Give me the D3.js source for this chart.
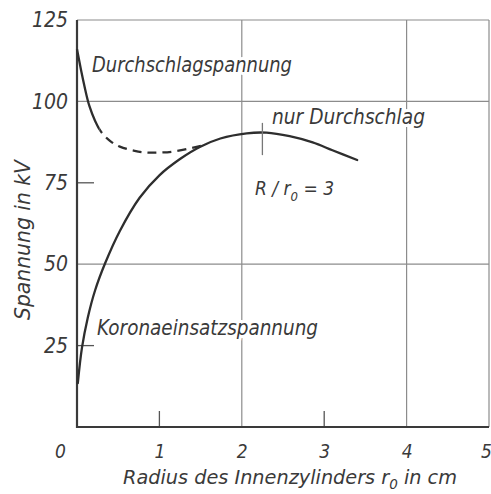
<!DOCTYPE html>
<html>
<head>
<meta charset="utf-8">
<script src="https://cdn.jsdelivr.net/npm/d3@7"></script>
<style>
  html, body { margin: 0; padding: 0; background: #fff; }
  svg { display: block; }
  text { font-family: "Liberation Sans Narrow", "DejaVu Sans Condensed", sans-serif; font-style: italic; fill: #3a3a3a; }
</style>
</head>
<body>
<svg id="chart" width="491" height="494"></svg>
<script>
// Corona onset voltage, rising from the axis into the common breakdown branch
const coronaRadius = [0.01, 0.06, 0.13, 0.22, 0.34, 0.52, 0.76, 1.00, 1.25, 1.49, 1.74, 2.06, 2.30, 2.58, 2.86, 3.10, 3.40];
const coronaKV     = [13.5, 24.3, 33.5, 42.0, 50.2, 60.2, 70.4, 77.3, 82.3, 86.0, 88.6, 90.2, 90.4, 89.3, 87.4, 85.0, 82.0];

// Breakdown voltage for thin inner conductors (solid up to solidUntil, dashed beyond)
const breakdownRadius = [0, 0.05, 0.10, 0.15, 0.22, 0.30, 0.40, 0.52, 0.70, 0.85, 1.00, 1.17, 1.37, 1.53];
const breakdownKV     = [116, 109.5, 103.6, 98.6, 94.0, 90.4, 87.9, 86.1, 84.8, 84.3, 84.3, 84.6, 85.6, 86.5];
const solidUntil = 0.27;

// Marker of the optimum radius ratio R/r0 = 3
const optimumRadius = 2.25;
const optimumKV = [93.4, 83.5];

// Axes
const xTicks = [0, 1, 2, 3, 4, 5];
const yTicks = [25, 50, 75, 100, 125];
const xGrid = [2, 4, 5];
const yGrid = [50, 100, 125];
const xMinor = [1, 3];
const yMinor = [25, 75];

const svg = d3.select("#chart");
const x = d3.scaleLinear().domain([0, 5]).range([77, 489]);
const y = d3.scaleLinear().domain([0, 125]).range([427, 20]);

const grid = svg.append("g").attr("stroke", "#8c8c8c").attr("stroke-width", 1.2);
grid.selectAll("line.h").data(yGrid).join("line").attr("class", "h")
  .attr("x1", x(0)).attr("x2", x(5)).attr("y1", d => y(d)).attr("y2", d => y(d));
grid.selectAll("line.v").data(xGrid).join("line").attr("class", "v")
  .attr("y1", y(0)).attr("y2", y(125)).attr("x1", d => x(d)).attr("x2", d => x(d));

// short inner ticks
const ticks = svg.append("g").attr("stroke", "#555").attr("stroke-width", 1.3);
ticks.selectAll("line.yt").data(yMinor).join("line").attr("class", "yt")
  .attr("x1", x(0)).attr("x2", x(0) + 17).attr("y1", d => y(d)).attr("y2", d => y(d));
ticks.selectAll("line.xt").data(xMinor).join("line").attr("class", "xt")
  .attr("y1", y(0)).attr("y2", y(0) - 16).attr("x1", d => x(d)).attr("x2", d => x(d));

// main axis lines
svg.append("line").attr("x1", x(0)).attr("x2", x(0)).attr("y1", y(0) + 1).attr("y2", y(125))
  .attr("stroke", "#3a3a3a").attr("stroke-width", 2.2);
svg.append("line").attr("x1", x(0) - 1).attr("x2", x(5)).attr("y1", y(0)).attr("y2", y(0))
  .attr("stroke", "#3a3a3a").attr("stroke-width", 2.2);

// tick labels via d3 axes
const xAxis = svg.append("g").attr("transform", `translate(0,${y(0)})`)
  .call(d3.axisBottom(x).tickValues(xTicks).tickSize(0).tickPadding(17.5).tickFormat(d3.format("d")));
const yAxis = svg.append("g").attr("transform", `translate(${x(0)},0)`)
  .call(d3.axisLeft(y).tickValues(yTicks).tickSize(0).tickPadding(9).tickFormat(d3.format("d")));
[xAxis, yAxis].forEach(g => {
  g.select(".domain").remove();
  g.selectAll("text").attr("font-size", 21).attr("fill", "#3a3a3a")
    .style("font-family", '"Liberation Sans Narrow", "DejaVu Sans Condensed", sans-serif')
    .style("font-style", "italic");
});
xAxis.selectAll("text").attr("font-size", 19);
xAxis.selectAll(".tick").filter(d => d === 0).select("text").attr("dx", -17);
xAxis.selectAll(".tick").filter(d => d === 5).select("text").attr("dx", -3);

// curves
const zip = (a, b) => a.map((v, i) => [v, b[i]]);
const smooth = d3.line().x(d => x(d[0])).y(d => y(d[1])).curve(d3.curveCatmullRom.alpha(0.5));
const curves = svg.append("g").attr("fill", "none").attr("stroke", "#2e2e2e")
  .attr("stroke-width", 2.3);
curves.append("path").attr("d", smooth(zip(coronaRadius, coronaKV))).attr("stroke-linecap", "round");

// breakdown branch: one smooth path, solid part clipped to r0 < solidUntil, dashed remainder
const defs = svg.append("defs");
defs.append("clipPath").attr("id", "solidPart").append("rect")
  .attr("x", 0).attr("y", 0).attr("width", x(solidUntil)).attr("height", 494);
defs.append("clipPath").attr("id", "dashPart").append("rect")
  .attr("x", x(solidUntil)).attr("y", 0).attr("width", 491).attr("height", 494);
const breakdownPath = d3.line().x(d => x(d[0])).y(d => y(d[1])).curve(d3.curveNatural)(zip(breakdownRadius, breakdownKV));
curves.append("path").attr("d", breakdownPath).attr("clip-path", "url(#solidPart)");
curves.append("path").attr("d", breakdownPath).attr("clip-path", "url(#dashPart)")
  .attr("stroke-dasharray", "9 6").attr("stroke-dashoffset", -4);

svg.append("line").attr("x1", x(optimumRadius)).attr("x2", x(optimumRadius))
  .attr("y1", y(optimumKV[0])).attr("y2", y(optimumKV[1]))
  .attr("stroke", "#777").attr("stroke-width", 1.3);

// labels with a white halo so grid lines break around them
const halo = sel => sel.attr("stroke", "#fff").attr("stroke-width", 6).attr("paint-order", "stroke").attr("stroke-linejoin", "round");
const label = (txt, x0, yb, len, size) => svg.append("text").attr("x", x0).attr("y", yb)
  .attr("font-size", size).attr("textLength", len).attr("lengthAdjust", "spacingAndGlyphs").text(txt).call(halo);

label("Durchschlagspannung", 92, 72, 200, 21);
label("nur Durchschlag", 272, 124, 153, 21);
label("Koronaeinsatzspannung", 97, 335, 221, 21);

const ratio = svg.append("text").attr("x", 255).attr("y", 195).attr("font-size", 19).call(halo);
ratio.append("tspan").text("R / r");
ratio.append("tspan").attr("dy", 6).attr("font-size", 13).text("0");
ratio.append("tspan").attr("dy", -6).text(" = 3");

const xt = svg.append("text").attr("x", 123).attr("y", 484).attr("font-size", 20)
  .attr("textLength", 334).attr("lengthAdjust", "spacingAndGlyphs");
xt.append("tspan").text("Radius des Innenzylinders r");
xt.append("tspan").attr("dy", 5).attr("font-size", 14).text("0");
xt.append("tspan").attr("dy", -5).text(" in cm");

svg.append("text").attr("transform", "translate(30,240) rotate(-90)").attr("text-anchor", "middle")
  .attr("font-size", 21).attr("textLength", 160).attr("lengthAdjust", "spacingAndGlyphs").text("Spannung in kV");
</script>
</body>
</html>
